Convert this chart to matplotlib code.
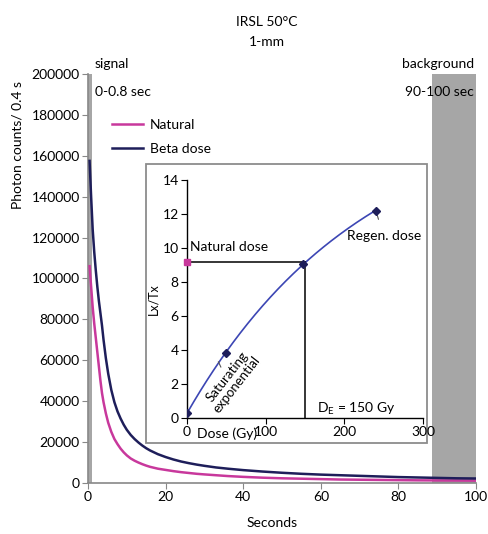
import numpy as np
import matplotlib.pyplot as plt
from matplotlib.patches import Rectangle

plt.rcParams['font.family'] = ['Lato', 'DejaVu Sans']

# ---- decay curves ----
beta_t = [0.4, 0.8, 1.2, 1.6, 2.0, 2.4, 2.8, 3.2, 3.6, 4.0, 4.6, 5.2, 6.0, 6.8, 7.6,
          8.4, 9.2, 10, 11, 12, 13, 14, 15, 16, 18, 20, 22, 24, 26, 28, 30, 33, 36,
          40, 45, 50, 55, 60, 65, 70, 75, 80, 85, 90, 95, 100]
beta_counts = [157500, 140000, 124000, 113000, 104000, 96000, 89000, 83000, 77000,
               70000, 61000, 53500, 45500, 39500, 35000, 31500, 28500, 26000, 23500,
               21500, 19800, 18300, 17000, 15900, 14100, 12700, 11500, 10500, 9700,
               9000, 8400, 7600, 7000, 6300, 5600, 5000, 4500, 4100, 3800, 3500, 3200,
               2900, 2700, 2500, 2300, 2200]
nat_t = beta_t
nat_counts = [106000, 96000, 86000, 78000, 71000, 64000, 57000, 50000, 44000, 39500,
              34000, 29500, 25000, 21500, 19000, 16800, 15000, 13500, 12000, 10900,
              10000, 9200, 8500, 7900, 7000, 6400, 5800, 5300, 4900, 4500, 4200, 3800,
              3400, 3000, 2600, 2300, 2100, 1900, 1700, 1600, 1500, 1400, 1300, 1250,
              1200, 1150]

# ---- dose response (inset) ----
regen_dose = [0, 50, 147, 240]
regen_lxtx = [0.3, 3.85, 9.05, 12.2]
natural_lxtx = 9.2
de = 150

magenta = '#c8389c'
navy = '#1e1e5a'
grey = '#a6a6a6'

fig = plt.figure(figsize=(4.89, 5.34), dpi=100)
ax = fig.add_axes([0.18, 0.0955, 0.7935, 0.766])

ax.axvspan(0, 1.0, color=grey, lw=0, zorder=1)
ax.axvspan(88.7, 100, color=grey, lw=0, zorder=1)
ax.plot(nat_t, nat_counts, color=magenta, lw=1.8, label='Natural', zorder=3)
ax.plot(beta_t, beta_counts, color=navy, lw=1.8, label='Beta dose', zorder=3)

ax.set_xlim(0, 100)
ax.set_ylim(0, 200000)
ax.set_xticks(range(0, 101, 20))
ax.set_yticks(range(0, 200001, 20000))
for s in ['top', 'right']:
    ax.spines[s].set_visible(False)
for s in ['left', 'bottom']:
    ax.spines[s].set_color('#888888')
    ax.spines[s].set_linewidth(1.2)
ax.tick_params(direction='out', length=4, color='#888888', labelsize=10, pad=2)

ax.legend(loc='upper left', bbox_to_anchor=(0.03, 0.92), frameon=False, fontsize=10,
          handlelength=2.2, labelspacing=0.85, handletextpad=0.5)

ax.text(1.8, 202000, 'signal', fontsize=10, va='bottom')
ax.text(1.8, 191000, '0-0.8 sec', fontsize=10, va='center')
ax.text(99.5, 202000, 'background', fontsize=10, va='bottom', ha='right')
ax.text(99.5, 191000, '90-100 sec', fontsize=10, va='center', ha='right')

fig.text(0.546, 1 - 22 / 534, 'IRSL 50°C', ha='center', va='center', fontsize=10)
fig.text(0.546, 1 - 42 / 534, '1-mm', ha='center', va='center', fontsize=10)
fig.text(18 / 489, 1 - 145 / 534, 'Photon counts/ 0.4 s', rotation=90,
         ha='center', va='center', fontsize=10)
fig.text(272 / 489, 1 - 523 / 534, 'Seconds', ha='center', va='center', fontsize=10)

# ---- inset box ----
fig.patches.append(Rectangle((146 / 489, 1 - 443 / 534), 281 / 489, 279 / 534,
                             transform=fig.transFigure, facecolor='white',
                             edgecolor='#8c8c8c', lw=1.3, zorder=4))

ins = fig.add_axes([187 / 489, 1 - 418 / 534, 236 / 489, 238 / 534], zorder=5)
ins.patch.set_alpha(0)

# saturating exponential fit: y = a*(1-exp(-x/d0)) + c
xs = np.array(regen_dose, float)
ys = np.array(regen_lxtx, float)
best = None
for d0 in np.linspace(50, 1000, 2000):
    A = np.column_stack([1 - np.exp(-xs / d0), np.ones_like(xs)])
    coef, *_ = np.linalg.lstsq(A, ys, rcond=None)
    err = np.sum((A @ coef - ys) ** 2)
    if best is None or err < best[0]:
        best = (err, d0, coef)
_, d0, (a, c) = best
xf = np.linspace(0, max(regen_dose), 200)
ins.plot(xf, a * (1 - np.exp(-xf / d0)) + c, color='#3c46b4', lw=1.2)

ins.plot([0, de], [natural_lxtx, natural_lxtx], color='black', lw=1.1)
ins.plot([de, de], [0, natural_lxtx], color='black', lw=1.1)
ins.plot(regen_dose, regen_lxtx, 'D', color=navy, ms=4, ls='none', zorder=6)
ins.plot([0], [natural_lxtx], 's', color=magenta, ms=4.5, ls='none', zorder=6, clip_on=False)

ins.set_xlim(0, 300)
ins.set_ylim(0, 14)
ins.set_xticks([0, 100, 200, 300])
ins.set_yticks(range(0, 15, 2))
for s in ['top', 'right']:
    ins.spines[s].set_visible(False)
for s in ['left', 'bottom']:
    ins.spines[s].set_linewidth(1.0)
ins.tick_params(direction='out', length=4, labelsize=10, pad=2)
ins.set_ylabel('Lx/Tx', fontsize=9, labelpad=2)

ins.text(4, 9.7, 'Natural dose', fontsize=10, va='bottom')
ins.annotate('Regen. dose', xy=(240, 12.2), xytext=(250, 10.7), fontsize=10,
             ha='center', va='center',
             arrowprops=dict(arrowstyle='-', color='#555555', lw=0.8,
                             shrinkA=6, shrinkB=2))
ins.plot([40, 43], [3.3, 3.0], color='#555555', lw=0.8)
ins.text(57, 2.2, 'Saturating\nexponential', fontsize=9.5, rotation=52,
         ha='center', va='center', linespacing=0.95)
ins.text(165, 0.55, 'D$_\\mathregular{E}$ = 150 Gy', fontsize=10, va='center')
ins.text(13, -0.95, 'Dose (Gy)', fontsize=10, va='center', clip_on=False)

fig.savefig('out.png', dpi=100)
